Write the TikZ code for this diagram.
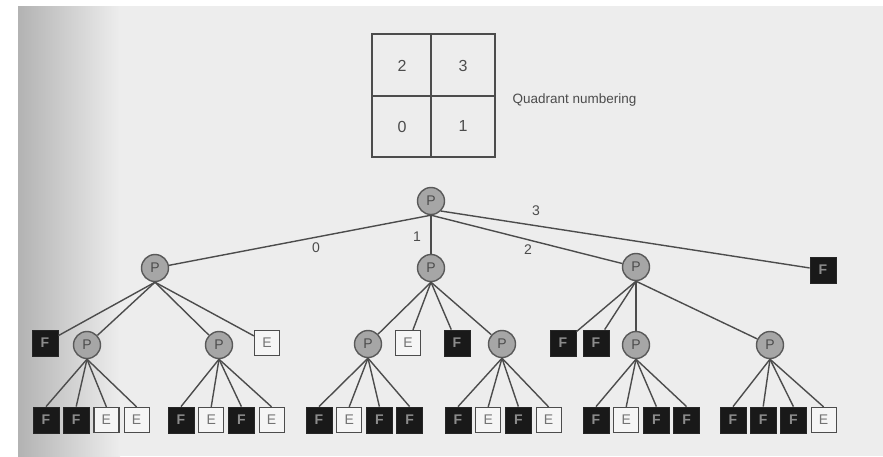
\documentclass[tikz,border=0pt]{standalone}
\usepackage{fontspec}
\setmainfont{Liberation Sans}
\def\ftype{f}
\begin{document}
\begin{tikzpicture}[x=1pt,y=-1pt,
  pnode/.style={circle,draw=black!65,line width=1.4pt,fill=black!35,minimum size=27pt,inner sep=0pt,text=black!70,font=\fontsize{14}{14}\selectfont},
  fnode/.style={rectangle,draw=black!85,line width=0.8pt,fill=black!90,minimum size=26pt,inner sep=0pt,text=black!45,font=\fontsize{14}{14}\selectfont\bfseries},
  enode/.style={rectangle,draw=black!70,line width=1.2pt,fill=white!96!black,minimum size=25pt,inner sep=0pt,text=black!55,font=\fontsize{14}{14}\selectfont},
  edge/.style={draw=black!70,line width=1.4pt},
  elabel/.style={text=black!70,font=\fontsize{14}{14}\selectfont},
  qline/.style={draw=black!70,line width=1.8pt}]
\useasboundingbox (0,0) rectangle (883,456);
\fill[white] (0,0) rectangle (883,456);
\fill[black!7] (18,6) rectangle (883,456);
\shade[left color=black!30,right color=black!7] (18,6) rectangle (120,456);
% quadrant numbering
\draw[qline] (372,34) rectangle (495,157);
\draw[qline] (431,34) -- (431,157);
\draw[qline] (372,96) -- (495,96);
\node[elabel,font=\fontsize{16}{16}\selectfont] (q2) at (402,66) {2};
\node[elabel,font=\fontsize{16}{16}\selectfont] (q3) at (463,66) {3};
\node[elabel,font=\fontsize{16}{16}\selectfont] (q0) at (402,127) {0};
\node[elabel,font=\fontsize{16}{16}\selectfont] (q1) at (463,126) {1};
\node[elabel,anchor=west,font=\fontsize{13.5}{13.5}\selectfont] (qt) at (509,100) {Quadrant numbering};
% root
\node[pnode] (r) at (431,201) {P};
% level 1
\node[pnode] (a) at (155,268) {P};
\node[pnode] (b) at (431,268) {P};
\node[pnode] (c) at (636,267) {P};
\node[fnode] (d) at (823,270) {F};
\draw[edge] (r.south) -- (a);
\draw[edge] (r) -- (b);
\draw[edge] (r.south) -- (c);
\draw[edge] (r.south east) -- (d);
\node[elabel] (l0) at (316,248) {0};
\node[elabel] (l1) at (417,237) {1};
\node[elabel] (l2) at (528,250) {2};
\node[elabel] (l3) at (536,211) {3};
% level 2
\node[fnode] (a0) at (45,343) {F};
\node[pnode] (a1) at (87,345) {P};
\node[pnode] (a2) at (219,345) {P};
\node[enode] (a3) at (267,343) {E};
\node[pnode] (b0) at (368,344) {P};
\node[enode] (b1) at (408,343) {E};
\node[fnode] (b2) at (457,343) {F};
\node[pnode] (b3) at (502,344) {P};
\node[fnode] (c0) at (563,343) {F};
\node[fnode] (c1) at (596,343) {F};
\node[pnode] (c2) at (636,345) {P};
\node[pnode] (c3) at (770,345) {P};
\foreach \ch in {a0,a1,a2,a3} \draw[edge] (a.south) -- (\ch);
\foreach \ch in {b0,b1,b2,b3} \draw[edge] (b.south) -- (\ch);
\foreach \ch in {c0,c1,c2,c3} \draw[edge] (c.south) -- (\ch);
% level 3
\foreach \pp/\x/\types in {a1/46/{f,f,e,e}, a2/181/{f,e,f,e}, b0/319/{f,e,f,f}, b3/458/{f,e,f,e}, c2/596/{f,e,f,f}, c3/733/{f,f,f,e}}{
  \foreach \t [count=\i from 0] in \types {
    \ifx\t\ftype
      \node[fnode] (\pp-\i) at ({\x+30.2*\i},420) {F};
    \else
      \node[enode] (\pp-\i) at ({\x+30.2*\i},420) {E};
    \fi
    \draw[edge] (\pp.south) -- (\pp-\i.north);
  }
}
\end{tikzpicture}
\end{document}
